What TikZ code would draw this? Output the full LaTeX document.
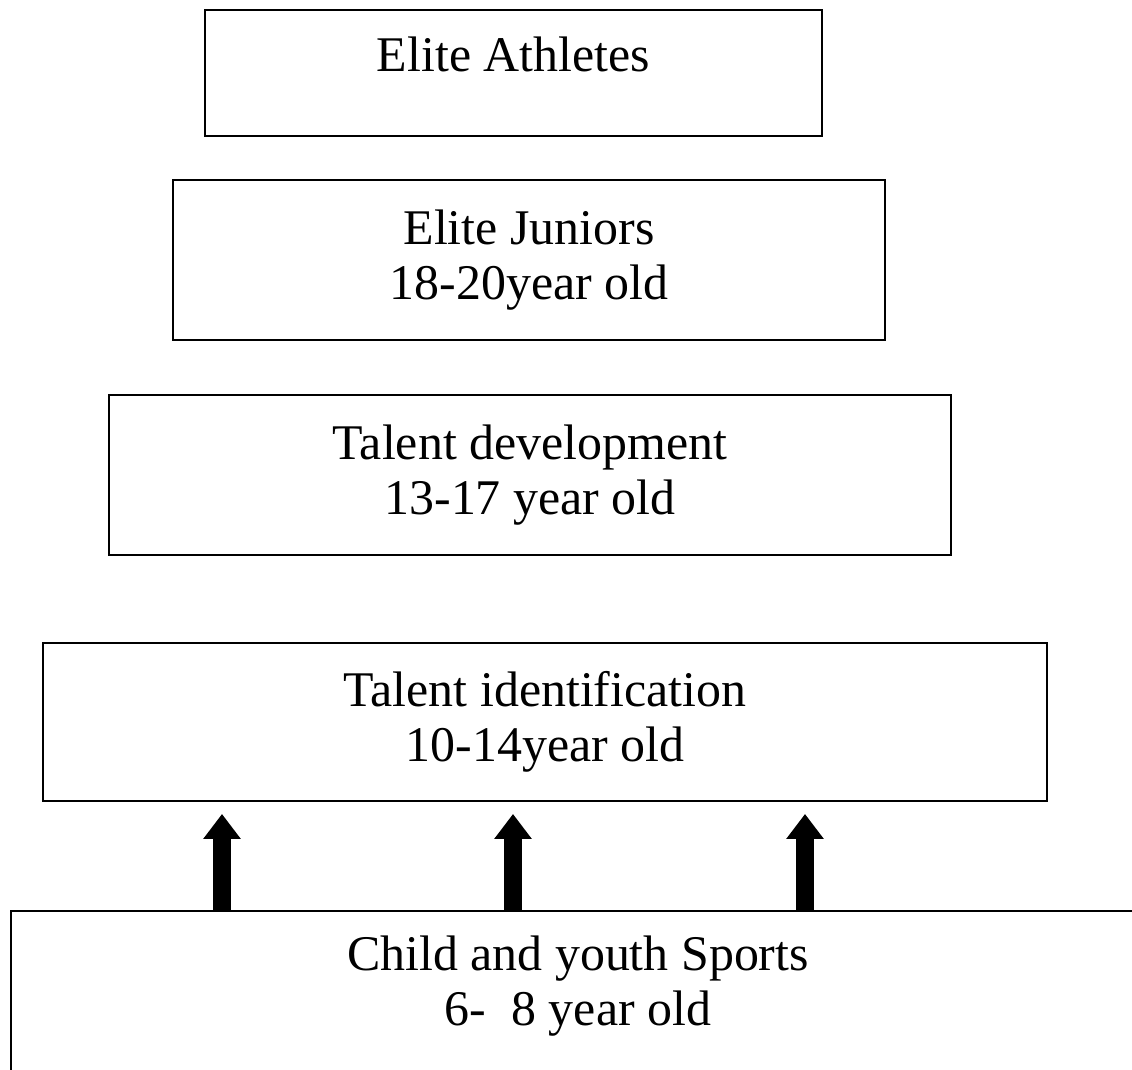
\documentclass[tikz,border=0pt]{standalone}
\usepackage{fontspec}
\setmainfont{Liberation Serif}
\usetikzlibrary{arrows.meta}

\begin{document}
\begin{tikzpicture}[
    lvl/.style={rectangle, draw, line width=1.1pt, align=center,
                inner sep=0pt, font=\fontsize{28.4}{31.3}\selectfont},
    txt/.style={align=center, inner sep=0pt,
                font=\fontsize{28.4}{31.3}\selectfont},
    uparr/.style={-{Triangle[length=0.5cm, width=0.72cm]},
                  line width=0.36cm, shorten >=0.24cm},
  ]
  \useasboundingbox (0,0) rectangle (22.64,21.4);
  \clip (0,0) rectangle (22.64,21.4);

  % ===== Pyramid levels (top -> bottom) =====
  \node[lvl, minimum width=12.34cm, minimum height=2.52cm] (elite) at (10.27,19.94)
    {Elite Athletes\\[-0.35cm]\mbox{}};
  \node[lvl, minimum width=14.24cm, minimum height=3.2cm] (junior) at (10.58,16.2)
    {Elite Juniors\\18-20year old};
  \node[lvl, minimum width=16.84cm, minimum height=3.2cm] (tdev) at (10.6,11.9)
    {Talent development\\13-17 year old};
  \node[lvl, minimum width=20.08cm, minimum height=3.16cm] (tid) at (10.9,6.96)
    {Talent identification\\10-14year old};

  % Base: runs off the page to the right and bottom
  \node[lvl, anchor=north west, minimum width=23.2cm, minimum height=4cm] (child) at (0.2,3.2) {};
  \node[txt] (childtxt) at (11.56,1.68) {Child and youth Sports\\6-\ \ 8 year old};

  % ===== Arrows up into talent identification =====
  \coordinate (a1) at (4.44,0);
  \coordinate (a2) at (10.26,0);
  \coordinate (a3) at (16.1,0);
  \foreach \a in {a1,a2,a3}
    \draw[uparr] (child.north -| \a) -- (tid.south -| \a);

\end{tikzpicture}
\end{document}
